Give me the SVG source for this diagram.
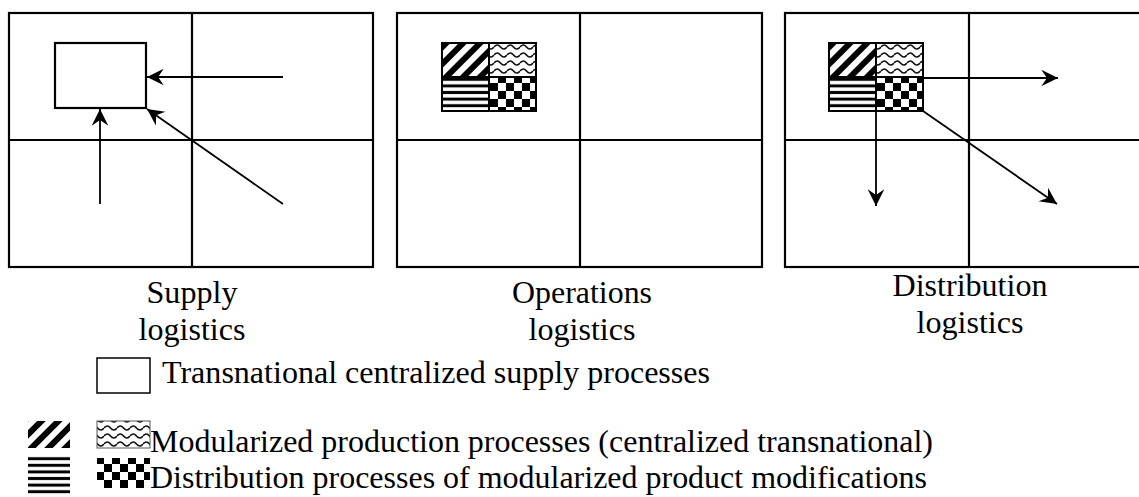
<svg xmlns="http://www.w3.org/2000/svg" xmlns:xlink="http://www.w3.org/1999/xlink" width="1139" height="497" viewBox="0 0 1139 497">
<style>
.frame{fill:none;stroke:#000;stroke-width:2.2}
.div{stroke:#000;stroke-width:2.2}
.arr{stroke:#000;stroke-width:1.8;fill:none;marker-end:url(#ah)}
.cell{stroke:#000;stroke-width:2}
text{font-family:"Liberation Serif","DejaVu Serif","Noto Serif",serif;font-size:32px;fill:#000}
.lbl{text-anchor:middle}
</style>
<defs>
<marker id="ah" markerUnits="userSpaceOnUse" markerWidth="20" markerHeight="20" viewBox="-16 -9 18 18" refX="0" refY="0" orient="auto">
<path d="M0,0 L-15,-7.5 L-10,0 L-15,7.5 z" fill="#000"/>
</marker>
<pattern id="pDiag" patternUnits="userSpaceOnUse" width="12" height="12" patternTransform="rotate(45)">
<rect width="12" height="12" fill="#fff"/>
<rect width="6" height="12" fill="#000"/>
</pattern>
<pattern id="pHoriz" patternUnits="userSpaceOnUse" width="10" height="6.6">
<rect width="10" height="6.6" fill="#fff"/>
<rect y="1.8" width="10" height="3" fill="#000"/>
</pattern>
<pattern id="pWave" patternUnits="userSpaceOnUse" width="13" height="8">
<rect width="13" height="8" fill="#fff"/>
<path d="M0,4 Q3.25,0 6.5,4 T13,4" fill="none" stroke="#111" stroke-width="1.6"/>
</pattern>
<pattern id="pCheck" patternUnits="userSpaceOnUse" width="16" height="16">
<rect width="16" height="16" fill="#fff"/>
<rect x="8" y="0" width="8" height="8" fill="#000"/>
<rect x="0" y="8" width="8" height="8" fill="#000"/>
</pattern>
<g id="mods">
<rect class="cell" x="0" y="0" width="47" height="34" fill="url(#pDiag)"/>
<rect class="cell" x="47" y="0" width="47" height="34" fill="url(#pWave)"/>
<rect class="cell" x="0" y="34" width="47" height="34" fill="url(#pHoriz)"/>
<rect class="cell" x="47" y="34" width="47" height="34" fill="url(#pCheck)"/>
</g>
</defs>
<rect width="1139" height="497" fill="#fff"/>

<g id="panel-supply">
<rect class="frame" x="9" y="13" width="364" height="254"/>
<line class="div" x1="192" y1="13" x2="192" y2="267"/>
<line class="div" x1="9" y1="140" x2="373" y2="140"/>
<rect id="supply-box" x="55" y="43" width="91" height="65" fill="none" stroke="#000" stroke-width="2.2"/>
<text class="lbl" x="192" y="303" textLength="91" lengthAdjust="spacingAndGlyphs">Supply</text>
<text class="lbl" x="192" y="340" textLength="107" lengthAdjust="spacingAndGlyphs">logistics</text>
</g>

<g id="panel-operations">
<rect class="frame" x="397" y="13" width="365" height="254"/>
<line class="div" x1="580" y1="13" x2="580" y2="267"/>
<line class="div" x1="397" y1="140" x2="762" y2="140"/>
<use xlink:href="#mods" transform="translate(442,43)"/>
<text class="lbl" x="582" y="303" textLength="140" lengthAdjust="spacingAndGlyphs">Operations</text>
<text class="lbl" x="582" y="340" textLength="107" lengthAdjust="spacingAndGlyphs">logistics</text>
</g>

<g id="panel-distribution">
<rect class="frame" x="785" y="13" width="367" height="254"/>
<line class="div" x1="969" y1="13" x2="969" y2="267"/>
<line class="div" x1="785" y1="140" x2="1152" y2="140"/>
<use xlink:href="#mods" transform="translate(829,43)"/>
<text class="lbl" x="970" y="296" textLength="155" lengthAdjust="spacingAndGlyphs">Distribution</text>
<text class="lbl" x="970" y="333" textLength="107" lengthAdjust="spacingAndGlyphs">logistics</text>
</g>

<g id="connectors">
<line class="arr" x1="283" y1="77" x2="147" y2="77"/>
<line class="arr" x1="100" y1="204" x2="100" y2="109"/>
<line class="arr" x1="283" y1="204" x2="147" y2="109"/>
<line class="arr" x1="923" y1="78" x2="1058" y2="78"/>
<line class="arr" x1="876" y1="111" x2="876" y2="206"/>
<line class="arr" x1="923" y1="111" x2="1057" y2="204"/>
</g>

<g id="legend-supply">
<rect x="97" y="358" width="53" height="35" fill="#fff" stroke="#000" stroke-width="1.5"/>
<text x="162" y="383" textLength="548" lengthAdjust="spacingAndGlyphs">Transnational centralized supply processes</text>
</g>

<g id="legend-production">
<rect x="28" y="421" width="42" height="27" fill="url(#pDiag)"/>
<rect x="97" y="421" width="53" height="27" fill="url(#pWave)" stroke="#555" stroke-width="1"/>
<text x="150" y="452" textLength="783" lengthAdjust="spacingAndGlyphs">Modularized production processes (centralized transnational)</text>
</g>

<g id="legend-distribution">
<rect x="28" y="456" width="42" height="40" fill="url(#pHoriz)"/>
<rect x="97" y="458" width="53" height="30" fill="url(#pCheck)"/>
<text x="150" y="488" textLength="777" lengthAdjust="spacingAndGlyphs">Distribution processes of modularized product modifications</text>
</g>
</svg>
